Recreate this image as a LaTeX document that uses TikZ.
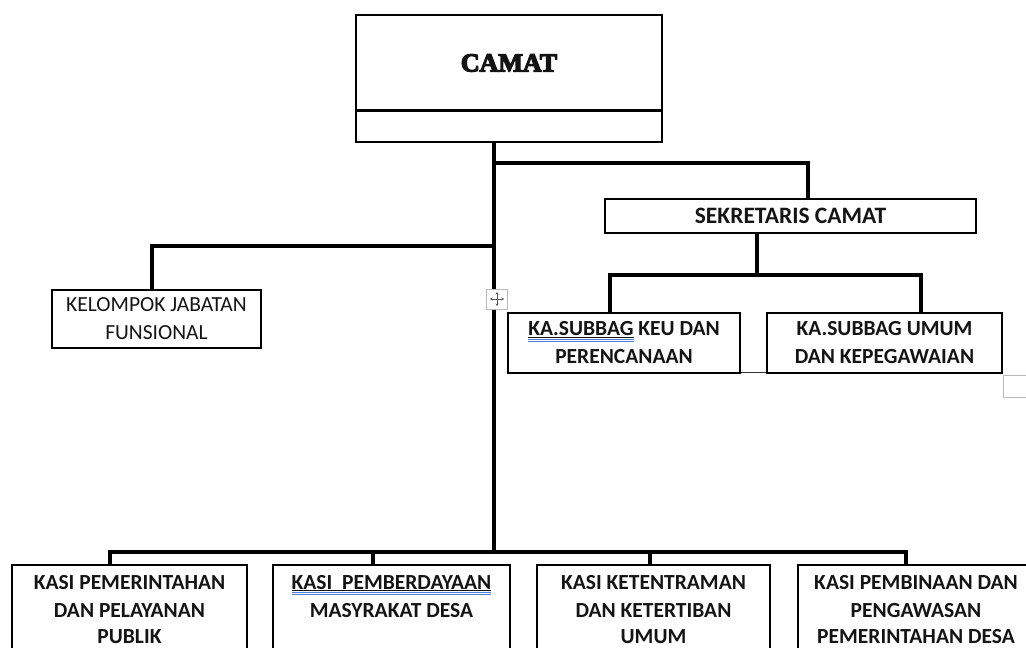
\documentclass[tikz,border=0pt]{standalone}
\usepackage{fontspec}
\setmainfont{Carlito}
\newfontfamily\camatfont[FakeBold=5]{Liberation Serif}
\usetikzlibrary{arrows.meta}
\definecolor{ublue}{RGB}{80,125,220}
\definecolor{ink}{RGB}{20,20,20}
\newcommand\gramu[1]{\setbox0\hbox{#1}\rlap{\color{ink}\rule[-1.6pt]{\wd0}{1pt}}\rlap{\color{ublue}\rule[-3.6pt]{\wd0}{0.9pt}}\rlap{\color{ublue}\rule[-6.2pt]{\wd0}{0.9pt}}\box0\relax}
\begin{document}
\begin{tikzpicture}[x=1pt,y=-1pt,
  box/.style={draw=black,line width=2.5pt,inner sep=0pt,align=center,text=ink,
    font=\bfseries\fontsize{21.5}{28}\selectfont},
  lowbox/.style={box,minimum height=90pt,text depth=6pt},
  conn/.style={draw=black,line width=3.6pt},
  thinl/.style={draw=black!80,line width=1pt},
  ghost/.style={draw=gray!55,line width=1pt,inner sep=0pt}]
\useasboundingbox (0,0) rectangle (1026,648);
\clip (0,0) rectangle (1026,648);
% boxes
\node[box,minimum width=306pt,minimum height=96pt,
  font=\camatfont\bfseries\fontsize{26}{30}\selectfont] (camat) at (509,63) {CAMAT};
\node[box,minimum width=306pt,minimum height=32pt] (camatsub) at (509,126) {};
\node[box,minimum width=371pt,minimum height=34pt,
  font=\bfseries\fontsize{23.5}{28}\selectfont] (sek) at (790.5,216) {SEKRETARIS CAMAT};
\node[box,minimum width=209pt,minimum height=58pt,
  font=\fontsize{21.5}{28}\selectfont] (kel) at (156.5,319) {KELOMPOK JABATAN\\FUNSIONAL};
\node[box,minimum width=232pt,minimum height=60pt] (keu) at (624,343)
  {\gramu{KA.SUBBAG} KEU DAN\\PERENCANAAN};
\node[box,minimum width=235pt,minimum height=60pt] (umum) at (884.5,343)
  {KA.SUBBAG UMUM\\DAN KEPEGAWAIAN};
\node[box,minimum width=235pt,minimum height=90pt] (k1) at (129.5,610)
  {KASI PEMERINTAHAN\\DAN PELAYANAN\\\raisebox{1.5pt}{PUBLIK}};
\node[box,minimum width=237pt,minimum height=90pt] (k2) at (391.5,610)
  {\gramu{KASI\ \ PEMBERDAYAAN}\\MASYRAKAT DESA\\\mbox{}};
\node[box,minimum width=233pt,minimum height=90pt] (k3) at (653.5,610)
  {KASI KETENTRAMAN\\DAN KETERTIBAN\\\raisebox{1.5pt}{UMUM}};
\node[box,minimum width=236pt,minimum height=90pt] (k4) at (916,610)
  {KASI PEMBINAAN DAN\\PENGAWASAN\\\raisebox{1.5pt}{PEMERINTAHAN DESA}};
% junctions
\coordinate (bus) at (494,553);
\coordinate (jsek) at (494,163);
\coordinate (jkel) at (494,246);
\coordinate (jsub) at (757,276);
% connectors
\draw[conn] (camatsub.south -| bus) -- (bus);
\draw[conn] (jsek) -| ([xshift=17.5pt]sek.north);
\draw[conn] (jkel) -| ([xshift=-4.5pt]kel.north);
\draw[conn] (sek.south -| jsub) -- (jsub);
\draw[conn] ([xshift=-14pt]keu.north) -- ++(0,-37) -| ([xshift=36.5pt]umum.north);
\draw[conn] ([xshift=-19.5pt]k1.north) -- ++(0,-12) -| ([xshift=-10pt]k4.north);
\draw[conn] ([xshift=-18.5pt]k2.north) -- ++(0,-12);
\draw[conn] ([xshift=-3.5pt]k3.north) -- ++(0,-12);
\draw[thinl] ([yshift=2pt]keu.south east) -- ([yshift=2pt]umum.south west);
% editor artefacts
\node[ghost,minimum width=28pt,minimum height=22pt] (gbox) at (1017,386) {};
\node[ghost,fill=white,minimum width=21pt,minimum height=20pt] (handle) at (497,299) {};
\draw[gray!70!black,line width=0.7pt,{Stealth[length=2.5pt,width=3pt]}-{Stealth[length=2.5pt,width=3pt]}]
  ([xshift=-7pt]handle.center) -- ([xshift=7pt]handle.center);
\draw[gray!70!black,line width=0.7pt,{Stealth[length=2.5pt,width=3pt]}-{Stealth[length=2.5pt,width=3pt]}]
  ([yshift=-7pt]handle.center) -- ([yshift=7pt]handle.center);
\end{tikzpicture}
\end{document}
